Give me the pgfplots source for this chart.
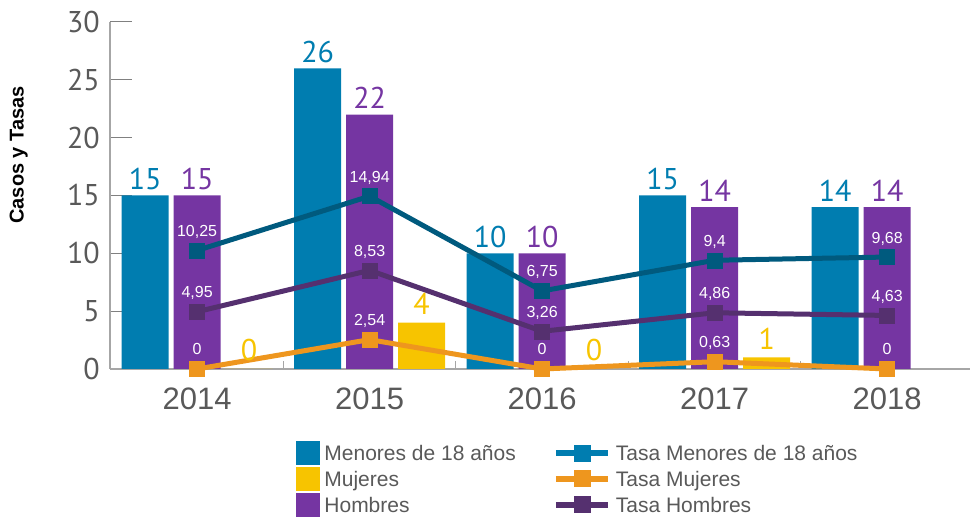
\documentclass[border=0pt]{standalone}
\usepackage{fontspec}
\setmainfont{Liberation Sans}
\newfontfamily\ptsans{PT Sans}
\usepackage{pgfplots}
\pgfplotsset{compat=1.18}
\definecolor{cMen}{HTML}{007DB0}
\definecolor{cHom}{HTML}{7535A2}
\definecolor{cMuj}{HTML}{F7C400}
\definecolor{cLMen}{HTML}{005A7E}
\definecolor{cLMuj}{HTML}{EE961E}
\definecolor{cLHom}{HTML}{55306F}
\definecolor{gText}{HTML}{595959}
\definecolor{gAxis}{HTML}{A6A6A6}
\begin{document}
\begin{tikzpicture}
\path[use as bounding box] (-110pt,-149pt) rectangle (862pt,369pt);
\begin{axis}[name=ax, at={(0pt,0pt)}, anchor=south west,
  scale only axis, width=860pt, height=347pt,
  xmin=-0.505, xmax=4.48, ymin=0, ymax=30,
  clip=false,
  axis x line*=bottom, axis y line*=left,
  axis line style={-, draw=gAxis, line width=1.5pt},
  /pgf/number format/assume math mode=true,
  /pgf/number format/.cd, use comma, 1000 sep={}, /pgfplots/.cd,
  ytick={0,5,...,30},
  xtick={0,1,2,3,4},
  xticklabels={2014,2015,2016,2017,2018},
  major x tick style={draw=none},
  minor x tick num=1,
  minor tick length=8pt,
  minor x tick style={draw=gAxis, line width=1pt},
  major tick length=22pt,
  tick align=inside,
  major y tick style={draw=gray, line width=1pt},
  yticklabel style={font=\ptsans\fontsize{30}{30}\selectfont, text=gText, anchor=east, inner sep=0pt, xshift=-10pt},
  xticklabel style={font=\fontsize{31}{31}\selectfont, text=gText, anchor=north, inner sep=0pt, yshift=-19pt},
  ylabel={Casos y Tasas},
  every axis y label/.style={at={(rel axis cs:-0.106,0.617)}, rotate=90, anchor=center, font=\bfseries\fontsize{20}{20}\selectfont, text=black},
  legend columns=2,
  legend cell align=left,
  legend style={draw=none, fill=none, at={(0.2163,-0.2075)}, anchor=north west, inner sep=0pt, outer sep=0pt,
    font=\fontsize{21}{21}\selectfont, text=gText,
    row sep=2.5pt,
    nodes={inner xsep=5pt, inner ysep=0pt, text height=15pt, text depth=0pt},
    /tikz/column 2/.style={column sep=32pt}},
]
% Bars
\addplot[ybar, bar width=47pt, bar shift=-52pt, fill=cMen, draw=none, forget plot,
  nodes near coords, every node near coord/.append style={text=cMen, font=\ptsans\fontsize{30}{30}\selectfont, anchor=base, inner sep=0pt, xshift=-52pt, yshift=6pt}]
  coordinates {(0,15) (1,26) (2,10) (3,15) (4,14)};
\addplot[ybar, bar width=47pt, bar shift=0pt, fill=cHom, draw=none, forget plot,
  nodes near coords, every node near coord/.append style={text=cHom, font=\ptsans\fontsize{30}{30}\selectfont, anchor=base, inner sep=0pt, yshift=6pt}]
  coordinates {(0,15) (1,22) (2,10) (3,14) (4,14)};
\addplot[ybar, bar width=47pt, bar shift=52pt, fill=cMuj, draw=none, forget plot,
  nodes near coords, every node near coord/.append style={text=cMuj, font=\ptsans\fontsize{30}{30}\selectfont, anchor=base, inner sep=0pt, xshift=52pt, yshift=8pt}]
  coordinates {(0,0) (1,4) (2,0) (3,1)};
% Lines
\addplot[cLMen, line width=5pt, mark=square*, mark size=7.5pt, mark options={line width=0.5pt}, forget plot,
  nodes near coords, every node near coord/.append style={text=white, font=\fontsize{16}{16}\selectfont, anchor=base, inner sep=0pt, yshift=14pt}]
  coordinates {(0,10.25) (1,14.94) (2,6.75) (3,9.4) (4,9.68)};
\addplot[cLHom, line width=5pt, mark=square*, mark size=7.5pt, mark options={line width=0.5pt}, forget plot,
  nodes near coords, every node near coord/.append style={text=white, font=\fontsize{16}{16}\selectfont, anchor=base, inner sep=0pt, yshift=14pt}]
  coordinates {(0,4.95) (1,8.53) (2,3.26) (3,4.86) (4,4.63)};
\addplot[cLMuj, line width=5pt, mark=square*, mark size=7.5pt, mark options={line width=0.5pt}, forget plot,
  nodes near coords, every node near coord/.append style={text=white, font=\fontsize{16}{16}\selectfont, anchor=base, inner sep=0pt, yshift=14pt}]
  coordinates {(0,0) (1,2.54) (2,0) (3,0.63) (4,0)};
% Legend
\addlegendimage{legend image code/.code={\fill[cMen] (0pt,-11.5pt) rectangle (23pt,11.5pt);}}
\addlegendentry{Menores de 18 años}
\addlegendimage{legend image code/.code={\draw[cMen, line width=6pt] (0pt,0pt) -- (52pt,0pt); \fill[cMen] (18pt,-8pt) rectangle (34pt,8pt);}}
\addlegendentry{Tasa Menores de 18 años}
\addlegendimage{legend image code/.code={\fill[cMuj] (0pt,-11.5pt) rectangle (23pt,11.5pt);}}
\addlegendentry{Mujeres}
\addlegendimage{legend image code/.code={\draw[cLMuj, line width=6pt] (0pt,0pt) -- (52pt,0pt); \fill[cLMuj] (18pt,-8pt) rectangle (34pt,8pt);}}
\addlegendentry{Tasa Mujeres}
\addlegendimage{legend image code/.code={\fill[cHom] (0pt,-11.5pt) rectangle (23pt,11.5pt);}}
\addlegendentry{Hombres}
\addlegendimage{legend image code/.code={\draw[cLHom, line width=6pt] (0pt,0pt) -- (52pt,0pt); \fill[cLHom] (18pt,-8pt) rectangle (34pt,8pt);}}
\addlegendentry{Tasa Hombres}
\end{axis}
\end{tikzpicture}
\end{document}
